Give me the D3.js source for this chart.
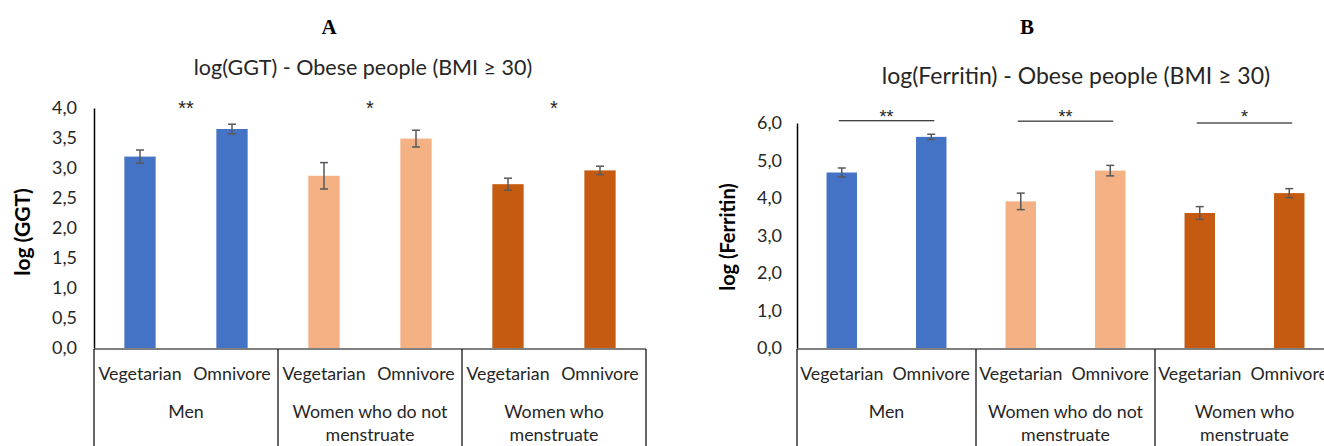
<!DOCTYPE html>
<html lang="en">
	<head>
		<meta charset="utf-8">
		<title>log(GGT) and log(Ferritin) - Obese people</title>
		<script type="text/javascript" src="https://cdn.jsdelivr.net/npm/d3@7/dist/d3.min.js"></script>
		<style type="text/css">
			body {
				margin: 0;
				background: #ffffff;
			}
			text {
				font-family: Lato, "Open Sans", sans-serif;
				fill: #262626;
			}
		</style>
	</head>
	<body>
		<script type="text/javascript">

			//Categories
			var groups = ["Men", "Women who do not menstruate", "Women who menstruate"];
			var groupLines = [["Men"], ["Women who do not", "menstruate"], ["Women who", "menstruate"]];
			var diets = ["Vegetarian", "Omnivore"];

			//Panel A values (Vegetarian, Omnivore per group)
			var ggtMean = [3.19, 3.65, 2.87, 3.49, 2.73, 2.96];
			var ggtErr = [0.11, 0.08, 0.22, 0.14, 0.10, 0.07];
			var ggtSig = ["**", "*", "*"];
			var ggtTicks = [0, 0.5, 1, 1.5, 2, 2.5, 3, 3.5, 4];

			//Panel B values
			var ferMean = [4.68, 5.63, 3.91, 4.73, 3.60, 4.13];
			var ferErr = [0.12, 0.07, 0.22, 0.14, 0.17, 0.12];
			var ferSig = ["**", "**", "*"];
			var ferTicks = [0, 1, 2, 3, 4, 5, 6];

			//Canvas size
			var w = 1324;
			var h = 446;

			//Group colours
			var colors = ["#4472C4", "#F4B183", "#C55A11"];

			var svg = d3.select("body")
						.append("svg")
						.attr("width", w)
						.attr("height", h);

			var fmt = function(d) { return d3.format(".1f")(d).replace(".", ","); };

			function drawPanel(p) {

				var g = svg.append("g");

				//Flatten data into bars
				var bars = [];
				groups.forEach(function(grp, i) {
					diets.forEach(function(diet, j) {
						bars.push({ group: grp, diet: diet, gi: i,
							mean: p.mean[i * 2 + j], err: p.err[i * 2 + j] });
					});
				});

				//Scales
				var xGroup = d3.scaleBand()
							.domain(groups)
							.range([p.left, p.left + p.groupW * groups.length]);

				var xDiet = d3.scaleBand()
							.domain(diets)
							.range([0, xGroup.bandwidth()])
							.paddingInner(0.66)
							.paddingOuter(0.33);

				var yScale = d3.scaleLinear()
							.domain([0, p.ymax])
							.range([p.bottom, p.top]);

				//Panel letter
				g.append("text")
					.attr("x", p.letterX)
					.attr("y", 34)
					.attr("text-anchor", "middle")
					.style("font-family", "'Liberation Serif', serif")
					.style("font-weight", "bold")
					.style("font-size", "21px")
					.style("fill", "#000")
					.text(p.letter);

				//Chart title
				g.append("text")
					.attr("x", p.titleX)
					.attr("y", p.titleY)
					.attr("text-anchor", "middle")
					.style("font-size", p.titleSize)
					.text(p.title);

				//Y axis label
				g.append("text")
					.attr("transform", "translate(" + p.ylabX + "," + p.ylabY + ") rotate(-90)")
					.attr("text-anchor", "middle")
					.style("font-size", p.ylabSize)
					.style("font-weight", "bold")
					.style("fill", "#000")
					.text(p.ylabel);

				//Y axis
				var yAxis = d3.axisLeft(yScale)
							.tickValues(p.ticks)
							.tickFormat(fmt)
							.tickSize(0)
							.tickPadding(p.left - p.tickEnd);

				var ya = g.append("g")
					.attr("transform", "translate(" + p.left + ",0)")
					.call(yAxis);
				ya.select(".domain").attr("stroke", "#000").attr("stroke-width", 1.5);
				ya.selectAll("text")
					.style("font-family", "Lato, sans-serif")
					.style("font-size", "18px")
					.style("fill", "#262626");

				//Bars
				g.selectAll("rect.bar")
					.data(bars)
					.enter()
					.append("rect")
					.attr("class", "bar")
					.attr("x", function(d) { return xGroup(d.group) + xDiet(d.diet); })
					.attr("y", function(d) { return yScale(d.mean); })
					.attr("width", xDiet.bandwidth())
					.attr("height", function(d) { return yScale(0) - yScale(d.mean); })
					.attr("fill", function(d) { return colors[d.gi]; });

				//Error bars
				var eb = g.selectAll("g.err")
					.data(bars)
					.enter()
					.append("g")
					.attr("class", "err")
					.attr("stroke", "#595959")
					.attr("stroke-width", 1.5);

				var cx = function(d) { return xGroup(d.group) + xDiet(d.diet) + xDiet.bandwidth() / 2; };

				eb.append("line")
					.attr("x1", cx).attr("x2", cx)
					.attr("y1", function(d) { return yScale(d.mean + d.err); })
					.attr("y2", function(d) { return yScale(d.mean - d.err); });
				eb.append("line")
					.attr("x1", function(d) { return cx(d) - 4; })
					.attr("x2", function(d) { return cx(d) + 4; })
					.attr("y1", function(d) { return yScale(d.mean + d.err); })
					.attr("y2", function(d) { return yScale(d.mean + d.err); });
				eb.append("line")
					.attr("x1", function(d) { return cx(d) - 4; })
					.attr("x2", function(d) { return cx(d) + 4; })
					.attr("y1", function(d) { return yScale(d.mean - d.err); })
					.attr("y2", function(d) { return yScale(d.mean - d.err); });

				//Significance marks
				g.selectAll("text.sig")
					.data(p.sig)
					.enter()
					.append("text")
					.attr("class", "sig")
					.attr("x", function(d, i) { return xGroup(groups[i]) + xGroup.bandwidth() / 2; })
					.attr("y", yScale(p.sigLevel) + 11)
					.attr("text-anchor", "middle")
					.style("font-family", "'Liberation Sans', sans-serif")
					.style("font-size", p.sigSize)
					.style("fill", "#262626")
					.text(function(d) { return d; });

				if (p.sigLine) {
					g.selectAll("line.sig")
						.data(p.sig)
						.enter()
						.append("line")
						.attr("class", "sig")
						.attr("x1", function(d, i) { return xGroup(groups[i]) + xDiet(diets[0]) + xDiet.bandwidth() / 2 - 3; })
						.attr("x2", function(d, i) { return xGroup(groups[i]) + xDiet(diets[1]) + xDiet.bandwidth() / 2 + 3; })
						.attr("y1", function(d, i) { return yScale(p.sigLine[i]); })
						.attr("y2", function(d, i) { return yScale(p.sigLine[i]); })
						.attr("stroke", "#000")
						.attr("stroke-width", 1);
				}

				//Category table lines
				var x0 = xGroup.range()[0];
				var x1 = xGroup.range()[1];
				g.append("line")
					.attr("x1", x0).attr("x2", x1)
					.attr("y1", p.bottom + 1).attr("y2", p.bottom + 1)
					.attr("stroke", "#000").attr("stroke-width", 1.2);

				var seps = [x0].concat(groups.map(function(d) { return xGroup(d) + xGroup.bandwidth(); }));
				g.selectAll("line.sep")
					.data(seps)
					.enter()
					.append("line")
					.attr("class", "sep")
					.attr("x1", function(d) { return d; })
					.attr("x2", function(d) { return d; })
					.attr("y1", p.bottom + 1)
					.attr("y2", h)
					.attr("stroke", "#000")
					.attr("stroke-width", 1.2);

				//Diet labels
				g.selectAll("text.diet")
					.data(bars)
					.enter()
					.append("text")
					.attr("class", "diet")
					.attr("x", cx)
					.attr("y", p.bottom + 32)
					.attr("text-anchor", "middle")
					.style("font-size", "17.8px")
					.text(function(d) { return d.diet; });

				//Group labels
				var gl = g.selectAll("text.grp")
					.data(groups)
					.enter()
					.append("text")
					.attr("class", "grp")
					.attr("x", function(d) { return xGroup(d) + xGroup.bandwidth() / 2; })
					.attr("y", p.bottom + 70)
					.attr("text-anchor", "middle")
					.style("font-size", "17.8px");

				gl.selectAll("tspan")
					.data(function(d, i) { return groupLines[i]; })
					.enter()
					.append("tspan")
					.attr("x", function() { var t = d3.select(this.parentNode); return t.attr("x"); })
					.attr("dy", function(d, i) { return i === 0 ? 0 : 23; })
					.text(function(d) { return d; });
			}

			drawPanel({
				letter: "A", letterX: 329,
				title: "log(GGT) - Obese people (BMI \u2265 30)", titleX: 363, titleY: 75, titleSize: "21.5px",
				ylabel: "log (GGT)", ylabX: 30, ylabY: 232, ylabSize: "21px",
				mean: ggtMean, err: ggtErr, sig: ggtSig, sigLevel: 4.07, sigLine: null, sigSize: "20px",
				ticks: ggtTicks, ymax: 4,
				left: 94, groupW: 184, top: 108, bottom: 348, tickEnd: 77
			});

			drawPanel({
				letter: "B", letterX: 1027,
				title: "log(Ferritin) - Obese people (BMI \u2265 30)", titleX: 1076, titleY: 84, titleSize: "23px",
				ylabel: "log (Ferritin)", ylabX: 735, ylabY: 237, ylabSize: "20px",
				mean: ferMean, err: ferErr, sig: ferSig, sigLevel: 6.3, sigLine: [6.06, 6.05, 6.0], sigSize: "18px",
				ticks: ferTicks, ymax: 6,
				left: 797, groupW: 179, top: 123, bottom: 348, tickEnd: 782
			});

		</script>
	</body>
</html>
